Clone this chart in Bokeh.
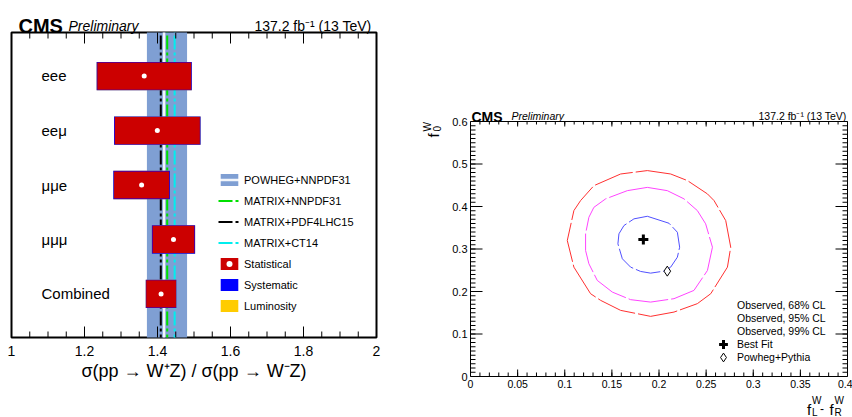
import math
from bokeh.plotting import figure
from bokeh.models import (Range1d, FixedTicker, Label, Legend, LegendItem, GridBox,
                          ColumnDataSource, CustomJSTickFormatter)
from bokeh.embed import file_html
from bokeh.resources import INLINE
from bokeh.core.properties import value

FONT = "Liberation Sans"
TICK_COLOR = "black"

# ---------------- Left panel data ----------------
channels = ["eee", "eeμ", "μμe", "μμμ", "Combined"]
ratio = [1.3636, 1.3995, 1.3565, 1.4438, 1.4098]
stat_unc = [0.1285, 0.1165, 0.0755, 0.0573, 0.0408]
syst_unc = [0.022, 0.022, 0.018, 0.015, 0.010]
lumi_unc = [0.0, 0.0, 0.0, 0.0, 0.0]

powheg_nnpdf31 = 1.418
powheg_unc_down = 0.047
powheg_unc_up = 0.063
matrix_nnpdf31 = 1.4266
matrix_pdf4lhc15 = 1.409
matrix_ct14 = 1.447

x_ticks_left = [1.0, 1.2, 1.4, 1.6, 1.8, 2.0]
x_minor_left = [round(1 + 0.05 * i, 2) for i in range(21)]

# ---------------- Right panel data ----------------
best_fit = (0.1834, 0.3223)
powheg_pythia = (0.2088, 0.2479)

c68_x = [0.1876, 0.2106, 0.2195, 0.2219, 0.2195, 0.2124, 0.2053, 0.1911, 0.1805, 0.1699,
         0.1611, 0.1564, 0.1575, 0.1628, 0.1734]
c68_y = [0.3770, 0.3606, 0.3394, 0.3042, 0.2808, 0.2573, 0.2479, 0.2432, 0.2472, 0.2573,
         0.2770, 0.3122, 0.3357, 0.3552, 0.3709]
c95_x = [0.1876, 0.2088, 0.2265, 0.2407, 0.2495, 0.2567, 0.2514, 0.2371, 0.2159, 0.1911,
         0.1699, 0.1505, 0.1345, 0.1256, 0.1221, 0.1221, 0.1256, 0.1309, 0.1434, 0.1664]
c95_y = [0.4450, 0.4373, 0.4180, 0.3904, 0.3592, 0.3042, 0.2495, 0.2026, 0.1831, 0.1751,
         0.1808, 0.1986, 0.2261, 0.2653, 0.2965, 0.3357, 0.3746, 0.3980, 0.4180, 0.4373]
c99_x = [0.1876, 0.2124, 0.2301, 0.2514, 0.2584, 0.2708, 0.2761, 0.2726, 0.2549, 0.2407,
         0.2159, 0.1911, 0.1593, 0.1381, 0.1274, 0.1097, 0.1027, 0.1097, 0.1168, 0.1309, 0.1593]
c99_y = [0.4845, 0.4765, 0.4610, 0.4296, 0.4139, 0.3669, 0.3042, 0.2573, 0.1948, 0.1714,
         0.1516, 0.1415, 0.1556, 0.1791, 0.1948, 0.2573, 0.3200, 0.3904, 0.4139, 0.4490, 0.4765]

x_ticks_right = [round(0.05 * i, 2) for i in range(9)]
x_minor_right = [round(0.01 * i, 2) for i in range(41)]
y_ticks_right = [round(0.1 * i, 1) for i in range(7)]
y_minor_right = [round(0.01 * i, 2) for i in range(61)]

fmt = CustomJSTickFormatter(code="return String(Math.round(tick*100)/100)")


def style_axis(ax, size, standoff):
    ax.axis_line_color = None
    ax.major_tick_line_color = None
    ax.minor_tick_line_color = None
    ax.major_tick_in = 0
    ax.major_tick_out = 0
    ax.minor_tick_in = 0
    ax.minor_tick_out = 0
    ax.major_label_text_font = FONT
    ax.major_label_text_color = "black"
    ax.major_label_text_font_size = size
    ax.major_label_standoff = standoff


def ticks_x(fig, ticks, y_edge, length, direction):
    src = ColumnDataSource(dict(x=list(ticks), y0=[y_edge] * len(ticks),
                                y1=[y_edge + direction * length] * len(ticks)))
    fig.segment(x0="x", y0="y0", x1="x", y1="y1", source=src,
                line_color=TICK_COLOR, line_width=1)


def ticks_y(fig, ticks, x_edge, length, direction):
    src = ColumnDataSource(dict(y=list(ticks), x0=[x_edge] * len(ticks),
                                x1=[x_edge + direction * length] * len(ticks)))
    fig.segment(x0="x0", y0="y", x1="x1", y1="y", source=src,
                line_color=TICK_COLOR, line_width=1)


# ================= LEFT FIGURE =================
L_W, L_H = 420, 417
L_left, L_right, L_top, L_bottom = 11, 44, 32, 80
y_lo, y_hi = 0.2, 5.8
p1 = figure(width=L_W, height=L_H, x_range=Range1d(1, 2), y_range=Range1d(y_lo, y_hi),
            output_backend="svg", toolbar_location=None, y_axis_location=None,
            min_border_left=L_left, min_border_right=L_right,
            min_border_top=L_top, min_border_bottom=L_bottom, frame_align=False)
p1.grid.visible = False
p1.outline_line_color = "black"
p1.outline_line_width = 2

fw1 = L_W - L_left - L_right
fh1 = L_H - L_top - L_bottom
py1 = (y_hi - y_lo) / fh1  # data units per pixel (y)

bx = p1.xaxis[0]
bx.ticker = FixedTicker(ticks=x_ticks_left, minor_ticks=x_minor_left)
bx.formatter = fmt
style_axis(bx, "14px", 8)
bx.axis_label = "σ(pp → W⁺Z) / σ(pp → W⁻Z)"
bx.axis_label_text_font = FONT
bx.axis_label_text_font_style = "normal"
bx.axis_label_text_font_size = "18px"
bx.axis_label_text_color = "black"
bx.axis_label_standoff = 2

band = p1.quad(left=[powheg_nnpdf31 - powheg_unc_down], right=[powheg_nnpdf31 + powheg_unc_up],
               bottom=[0], top=[6], fill_color="#7f9fd3", line_color=None)
wline = p1.line(x=[powheg_nnpdf31, powheg_nnpdf31], y=[0, 6], line_color="white",
                line_width=2.5, line_alpha=0.9)
dash = "14 3 3 3"
g_line = p1.line(x=[matrix_nnpdf31] * 2, y=[0, 6], line_color="#00e000", line_width=2, line_dash=dash)
k_line = p1.line(x=[matrix_pdf4lhc15] * 2, y=[0, 6], line_color="black", line_width=2, line_dash=dash)
c_line = p1.line(x=[matrix_ct14] * 2, y=[0, 6], line_color="#00eeee", line_width=2, line_dash=dash)

ypos = list(range(len(channels), 0, -1))
tot_syst = [math.sqrt(s ** 2 + y ** 2) for s, y in zip(stat_unc, syst_unc)]
tot_all = [math.sqrt(s ** 2 + y ** 2 + l ** 2) for s, y, l in zip(stat_unc, syst_unc, lumi_unc)]
src = ColumnDataSource(dict(
    y=ypos, c=ratio,
    st_l=[c - u for c, u in zip(ratio, stat_unc)], st_r=[c + u for c, u in zip(ratio, stat_unc)],
    sy_l=[c - u for c, u in zip(ratio, tot_syst)], sy_r=[c + u for c, u in zip(ratio, tot_syst)],
    lu_l=[c - u for c, u in zip(ratio, tot_all)], lu_r=[c + u for c, u in zip(ratio, tot_all)],
    b_in=[y - 0.25 for y in ypos], t_in=[y + 0.25 for y in ypos],
    b_out=[y - 0.26 for y in ypos], t_out=[y + 0.26 for y in ypos],
))
lumi_r = p1.quad(left="lu_l", right="lu_r", bottom="b_out", top="t_out", source=src,
                 fill_color="#ffcc00", line_color=None)
syst_r = p1.quad(left="sy_l", right="sy_r", bottom="b_out", top="t_out", source=src,
                 fill_color="#0000ff", line_color=None)
stat_r = p1.quad(left="st_l", right="st_r", bottom="b_in", top="t_in", source=src,
                 fill_color="#cc0000", line_color=None)
dots = p1.scatter(x="c", y="y", source=src, size=5, fill_color="white", line_color=None)

p1.text(x=[1 + 30 / fw1] * len(channels), y=ypos, text=channels, text_font=value(FONT),
        text_font_size="15px", text_baseline="middle", text_align="left", text_color="black")

# inward ticks (bottom and top)
ticks_x(p1, x_ticks_left, y_lo, 11 * py1, 1)
ticks_x(p1, x_minor_left, y_lo, 6 * py1, 1)
ticks_x(p1, x_ticks_left, y_hi, 11 * py1, -1)
ticks_x(p1, x_minor_left, y_hi, 6 * py1, -1)

leg1 = Legend(items=[
    LegendItem(label="POWHEG+NNPDF31", renderers=[band, wline]),
    LegendItem(label="MATRIX+NNPDF31", renderers=[g_line]),
    LegendItem(label="MATRIX+PDF4LHC15", renderers=[k_line]),
    LegendItem(label="MATRIX+CT14", renderers=[c_line]),
    LegendItem(label="Statistical", renderers=[stat_r, dots]),
    LegendItem(label="Systematic", renderers=[syst_r]),
    LegendItem(label="Luminosity", renderers=[lumi_r]),
], location=(207, 24), glyph_width=22, glyph_height=15, label_height=15, spacing=6,
    padding=0, margin=0, label_standoff=4, border_line_color=None, background_fill_alpha=0,
    label_text_font=FONT, label_text_font_size="11px", label_text_color="black")
p1.add_layout(leg1)

# ================= RIGHT FIGURE =================
R_W, R_H = 432, 417
R_left, R_right, R_top, R_bottom = 50, 5, 121, 41
p2 = figure(width=R_W, height=R_H, x_range=Range1d(0, 0.4), y_range=Range1d(0, 0.6),
            output_backend="svg", toolbar_location=None,
            min_border_left=R_left, min_border_right=R_right,
            min_border_top=R_top, min_border_bottom=R_bottom, frame_align=False)
p2.grid.visible = False
p2.outline_line_color = "black"
p2.outline_line_width = 1
fw2 = R_W - R_left - R_right
fh2 = R_H - R_top - R_bottom
px2 = 0.4 / fw2
py2 = 0.6 / fh2

xb = p2.xaxis[0]
xb.ticker = FixedTicker(ticks=x_ticks_right, minor_ticks=x_minor_right)
xb.formatter = fmt
style_axis(xb, "10.5px", 3)
yl = p2.yaxis[0]
yl.ticker = FixedTicker(ticks=y_ticks_right, minor_ticks=y_minor_right)
yl.formatter = fmt
style_axis(yl, "11px", 3)

col68, col95, col99 = "#5050ff", "#ff44ff", "#ff3030"
p2.line(x=c99_x + c99_x[:1], y=c99_y + c99_y[:1], line_color=col99, line_width=1, line_dash="40 3")
p2.line(x=c95_x + c95_x[:1], y=c95_y + c95_y[:1], line_color=col95, line_width=1, line_dash="40 3")
p2.line(x=c68_x + c68_x[:1], y=c68_y + c68_y[:1], line_color=col68, line_width=1, line_dash="25 3")
bf = p2.scatter(x=[best_fit[0]], y=[best_fit[1]], marker="cross", size=10, line_width=3,
                line_color="black")
pp = p2.scatter(x=[powheg_pythia[0]], y=[powheg_pythia[1]], marker="diamond", size=10,
                line_width=1, line_color="black", fill_color="white")

ticks_x(p2, x_ticks_right, 0, 7 * py2, 1)
ticks_x(p2, x_minor_right, 0, 4 * py2, 1)
ticks_x(p2, x_ticks_right, 0.6, 5 * py2, -1)
ticks_x(p2, x_minor_right, 0.6, 3 * py2, -1)
ticks_y(p2, y_ticks_right, 0, 12 * px2, 1)
ticks_y(p2, y_minor_right, 0, 5 * px2, 1)
ticks_y(p2, y_ticks_right, 0.4, 12 * px2, -1)
ticks_y(p2, y_minor_right, 0.4, 5 * px2, -1)

l68 = p2.line(x=[], y=[], line_color=col68, line_width=1, line_dash="5 2")
l95 = p2.line(x=[], y=[], line_color=col95, line_width=1, line_dash="5 2")
l99 = p2.line(x=[], y=[], line_color=col99, line_width=1, line_dash="5 2")
leg_common = dict(padding=0, margin=0, border_line_color=None, background_fill_alpha=0,
                  label_text_font=FONT, label_text_font_size="10.5px", label_text_color="black")
leg2 = Legend(items=[
    LegendItem(label="Observed, 68% CL", renderers=[l68]),
    LegendItem(label="Observed, 95% CL", renderers=[l95]),
    LegendItem(label="Observed, 99% CL", renderers=[l99]),
], location=(243, 39), glyph_width=20, glyph_height=12, label_height=12, spacing=1,
    label_standoff=4, **leg_common)
leg3 = Legend(items=[LegendItem(label="Best Fit", renderers=[bf])], location=(242, 21),
              glyph_width=22, glyph_height=22, label_height=22, label_standoff=3, **leg_common)
leg4 = Legend(items=[LegendItem(label="Powheg+Pythia", renderers=[pp])], location=(242, 8),
              glyph_width=22, glyph_height=22, label_height=22, label_standoff=3, **leg_common)
for lg in (leg2, leg3, leg4):
    p2.add_layout(lg)

# ================= TEXT OVERLAY (page pixel coordinates) =================
TOT_W = L_W + R_W
ov = figure(width=TOT_W, height=417, x_range=Range1d(0, TOT_W), y_range=Range1d(417, 0),
            output_backend="svg", toolbar_location=None, x_axis_location=None,
            y_axis_location=None, min_border=0, frame_align=False)
ov.grid.visible = False
ov.outline_line_color = None
ov.background_fill_color = None
ov.border_fill_color = None


def lab(x, y, t, size, style="normal", align="left", angle=0.0):
    ov.add_layout(Label(x=x, y=y, text=t, text_font=FONT, text_font_size=size,
                        text_font_style=style, text_baseline="alphabetic", text_align=align,
                        angle=angle, text_color="black"))


lumi_text = "137.2 fb⁻¹ (13 TeV)"
# left header
lab(18, 25, "CMS", "20px", "bold")
lab(68, 25, "Preliminary", "14px", "italic")
lab(371, 25, lumi_text, "14px", align="right")
# right header
lab(471, 116, "CMS", "14px", "bold")
lab(511, 115.5, "Preliminary", "10.5px", "italic")
lab(846, 115.5, lumi_text, "10.5px", align="right")
# right x-axis title  f_L^W - f_R^W
lab(806.5, 408.5, "f", "15px")
lab(811.5, 400, "W", "10px")
lab(811.5, 412, "L", "10px")
lab(819.5, 407.5, "-", "12px")
lab(829, 408.5, "f", "15px")
lab(834, 400, "W", "10px")
lab(834, 412, "R", "10px")
# right y-axis title  f_0^W (rotated)
lab(433, 137, "f", "15px", angle=math.pi / 2)
lab(427, 131, "W", "10px", angle=math.pi / 2)
lab(436, 131, "0", "10px", angle=math.pi / 2)

layout = GridBox(children=[(p1, 0, 0), (p2, 0, 1), (ov, 0, 0, 1, 2)], spacing=0)
open("out.html", "w").write(file_html(layout, INLINE))
